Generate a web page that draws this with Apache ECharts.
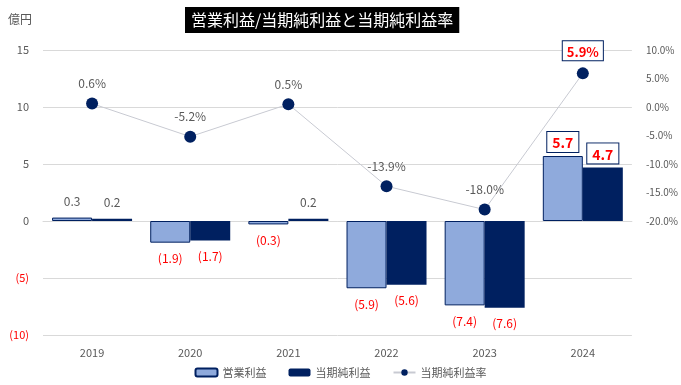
<!DOCTYPE html>
<html><head><meta charset="utf-8">
<script src="https://cdn.jsdelivr.net/npm/echarts@6/dist/echarts.min.js"></script>
<style>html,body{margin:0;padding:0;background:#fff}#c{width:681px;height:385px}</style>
</head><body><div id="c"></div>
<script>
const categories = ['2019','2020','2021','2022','2023','2024'];
const opProfit = [0.3, -1.9, -0.3, -5.9, -7.4, 5.7];
const netProfit = [0.2, -1.7, 0.2, -5.6, -7.6, 4.7];
const netMargin = [0.6, -5.2, 0.5, -13.9, -18.0, 5.9];

const FONT = '"Noto Sans CJK JP", "Noto Sans", sans-serif';
const GRAY = '#595959';
const RED = '#FF0000';
const NAVY = '#002060';
const LIGHT = '#8FAADC';

function fmtNum(v){ return v < 0 ? '(' + Math.abs(v).toFixed(1) + ')' : v.toFixed(1); }

function barLabel(v, i, last){
  if (i === last) {
    return {show:true, position:'top', distance:4, color:RED, fontWeight:'bold', fontSize:14,
      borderColor:NAVY, borderWidth:1, backgroundColor:'#fff', padding:[4,5,2,5], formatter: fmtNum(v)};
  }
  if (v < 0) return {show:true, position:'bottom', distance:10, color:RED, fontSize:12, formatter: fmtNum(v)};
  return {show:true, position:'top', distance:10, color:GRAY, fontSize:12, formatter: fmtNum(v)};
}

const last = categories.length - 1;
const opData = opProfit.map((v,i)=>({value:v, label: barLabel(v,i,last)}));
const netData = netProfit.map((v,i)=>({value:v, label: barLabel(v,i,last)}));
const marginData = netMargin.map((v,i)=>({value:v, label: i===last ?
  {show:true, position:'top', distance:7, color:RED, fontWeight:'bold', fontSize:13, borderColor:NAVY, borderWidth:1, backgroundColor:'#fff', padding:[4,4,2,4], formatter: v.toFixed(1)+'%'} :
  {show:true, position:'top', distance:8, color:GRAY, fontSize:12, formatter: v.toFixed(1)+'%'}}));

const chart = echarts.init(document.getElementById('c'));
chart.setOption({
  animation:false,
  textStyle:{fontFamily:FONT},
  title:{text:'営業利益/当期純利益と当期純利益率', left:185, top:7, padding:[5,6,5,6],
    backgroundColor:'#000', textStyle:{color:'#fff', fontSize:16, fontWeight:'normal', fontFamily:FONT}},
  graphic:[{type:'text', left:8, top:13, style:{text:'億円', fill:GRAY, fontSize:12, fontFamily:FONT}}],
  legend:{bottom:2, left:'center', itemWidth:22, itemHeight:8, itemGap:22,
    textStyle:{color:GRAY, fontSize:11, fontFamily:FONT},
    data:['営業利益','当期純利益','当期純利益率']},
  grid:{left:43, right:44, top:50, bottom:50},
  xAxis:{type:'category', data:categories, axisTick:{show:false},
    axisLine:{lineStyle:{color:'#D9D9D9'}}, axisLabel:{color:GRAY, fontSize:11, margin:12}},
  yAxis:[
    {type:'value', min:-10, max:15, interval:5, splitLine:{lineStyle:{color:'#D9D9D9'}},
     axisLabel:{fontSize:11, margin:14, color:GRAY,
       formatter:v=>v<0?'{r|('+Math.abs(v)+')}':String(v),
       rich:{r:{color:RED, fontSize:11}}}},
    {type:'value', min:-40, max:10, interval:5, splitLine:{show:false},
     axisLabel:{fontSize:10, color:GRAY, margin:14, formatter:v=>v< -20 ? '' : v.toFixed(1)+'%'}}
  ],
  series:[
    {name:'営業利益', type:'bar', barWidth:40, barGap:'0%', data:opData,
     itemStyle:{color:LIGHT, borderColor:NAVY, borderWidth:1}},
    {name:'当期純利益', type:'bar', barWidth:40, data:netData, itemStyle:{color:NAVY}},
    {name:'当期純利益率', type:'line', yAxisIndex:1, data:marginData, symbol:'circle', symbolSize:12,
     itemStyle:{color:NAVY}, lineStyle:{color:'#C8CAD2', width:1}, z:5}
  ]
});
</script></body></html>
